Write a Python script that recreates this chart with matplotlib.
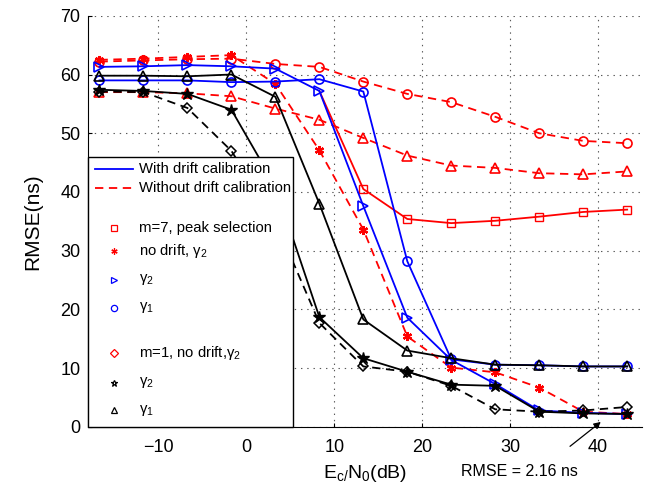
import matplotlib
matplotlib.use('Agg')
import matplotlib.pyplot as plt
import numpy as np
from matplotlib.lines import Line2D
from matplotlib.patches import Rectangle

plt.rcParams['font.family'] = ['Liberation Sans', 'DejaVu Sans']
plt.rcParams['mathtext.fontset'] = 'custom'
plt.rcParams['mathtext.rm'] = 'Liberation Sans'
plt.rcParams['mathtext.it'] = 'Liberation Sans'
plt.rcParams['mathtext.default'] = 'regular'
plt.rcParams['lines.scale_dashes'] = False

# Ec/N0 (dB)
snr = [-16.7, -11.7, -6.7, -1.7, 3.3, 8.3, 13.3, 18.3, 23.3, 28.3, 33.3, 38.3, 43.3]

# m=7, com calibracao de deriva
azul_gama2 = [61.3, 61.4, 61.6, 61.4, 61.0, 57.2, 37.6, 18.6, 11.4, 7.3, 2.8, 2.4, 2.2]
azul_gama1 = [59.0, 59.0, 59.0, 58.7, 58.8, 59.2, 57.1, 28.2, 11.5, 10.6, 10.5, 10.3, 10.3]
# m=7, peak selection
nan = np.nan
vermelho_pico = [nan, nan, nan, nan, nan, 57.2, 40.5, 35.4, 34.7, 35.1, 35.8, 36.6, 37.0]
# sem calibracao de deriva
vermelho_gama1 = [62.2, 62.4, 62.6, 62.7, 61.8, 61.3, 58.8, 56.7, 55.3, 52.8, 50.0, 48.7, 48.3]
vermelho_gama2 = [57.0, 57.0, 56.8, 56.3, 54.2, 52.3, 49.2, 46.2, 44.5, 44.1, 43.2, 43.0, 43.5]
vermelho_sem_deriva = [62.5, 62.7, 63.0, 63.3, 58.4, 47.1, 33.6, 15.4, 10.1, 9.3, 6.7, 2.6, 2.2]
# m=1
preto_gama1 = [59.8, 59.8, 59.7, 60.0, 56.2, 38.0, 18.3, 13.0, 11.7, 10.6, 10.5, 10.3, 10.3]
preto_gama2 = [57.4, 57.2, 56.7, 54.0, 41.0, 18.7, 11.7, 9.4, 7.2, 7.0, 2.6, 2.3, 2.2]
preto_sem_deriva = [57.1, 57.0, 54.3, 47.0, 35.0, 17.7, 10.3, 9.4, 7.0, 3.0, 2.6, 2.8, 3.4]

fig = plt.figure(figsize=(6.62, 4.93), dpi=100)
ax = fig.add_axes([0.133, 0.134, 0.837, 0.834])

tracejado = (6, 4)
asterisco = (6, 2, 0)
lw = 1.3
ms = 6.5

# curvas vermelhas (sem calibracao)
ax.plot(snr, vermelho_gama1, color='r', lw=lw, dashes=tracejado, marker='o', ms=ms, mfc='none', mew=1.2)
ax.plot(snr, vermelho_gama2, color='r', lw=lw, dashes=tracejado, marker='^', ms=ms, mfc='none', mew=1.2)
ax.plot(snr, vermelho_sem_deriva, color='r', lw=lw, dashes=tracejado, marker=asterisco, ms=ms, mew=1.6)
ax.plot(snr, vermelho_pico, color='r', lw=lw, marker='s', ms=5.5, mfc='none', mew=1.0,
        markevery=list(range(6, 13)))

# curvas azuis (com calibracao)
ax.plot(snr, azul_gama2, color='b', lw=lw, marker='>', ms=ms, mfc='none', mew=1.2)
ax.plot(snr, azul_gama1, color='b', lw=lw, marker='o', ms=ms, mfc='none', mew=1.2)

# curvas pretas (m=1)
ax.plot(snr, preto_sem_deriva, color='k', lw=lw, dashes=tracejado, marker='D', ms=5.5, mfc='none', mew=1.1)
ax.plot(snr, preto_gama1, color='k', lw=lw, marker='^', ms=ms, mfc='none', mew=1.2)
ax.plot(snr, preto_gama2, color='k', lw=lw, marker='*', ms=9, mfc='k', mew=1.0)

ax.set_xlim(-18, 45)
ax.set_ylim(0, 70)
ax.set_xticks([-10, 0, 10, 20, 30, 40])
ax.set_yticks(range(0, 71, 10))
ax.tick_params(direction='in', labelsize=13, length=3, top=False, right=False)
ax.tick_params(axis='x', pad=8.5)
ax.tick_params(axis='y', pad=5.5)
ax.grid(True, color='0.35', linestyle=(0, (1, 3.5)), lw=0.8)
ax.spines['top'].set_visible(False)
ax.spines['right'].set_visible(False)
ax.set_xlabel(r'$E_{c/}N_{0}$(dB)', fontsize=14, labelpad=5)
ax.set_ylabel('RMSE(ns)', fontsize=15, labelpad=13)

# legenda desenhada a mao (espacamento irregular do original)
ax.add_patch(Rectangle((0, 0), 0.37, 0.657, transform=ax.transAxes, facecolor='white',
                       edgecolor='k', lw=1.0, zorder=10, clip_on=False))
x0, x1, xm, xt = 0.013, 0.081, 0.047, 0.092
ax.add_line(Line2D([x0, x1], [0.628, 0.628], transform=ax.transAxes, color='b', lw=1.3, zorder=11))
ax.add_line(Line2D([x0, x1], [0.581, 0.581], transform=ax.transAxes, color='r', lw=1.3,
                   dashes=tracejado, zorder=11))
ax.text(xt, 0.628, 'With drift calibration', transform=ax.transAxes, fontsize=10.7, va='center', zorder=12)
ax.text(xt, 0.581, 'Without drift calibration', transform=ax.transAxes, fontsize=10.7, va='center', zorder=12)

entradas = [
    (0.484, 's', 'r', 'm=7, peak selection'),
    (0.428, asterisco, 'r', r'no drift, $\gamma_2$'),
    (0.358, '>', 'b', r'$\gamma_2$'),
    (0.290, 'o', 'b', r'$\gamma_1$'),
    (0.180, 'D', 'r', r'm=1, no drift,$\gamma_2$'),
    (0.107, '*', 'k', r'$\gamma_2$'),
    (0.041, '^', 'k', r'$\gamma_1$'),
]
for y, mk, cor, rotulo in entradas:
    ax.add_line(Line2D([xm], [y], transform=ax.transAxes, marker=mk, color=cor, ms=4.5,
                       mfc='none', mew=0.9, zorder=11))
    ax.text(xt, y, rotulo, transform=ax.transAxes, fontsize=10.7, va='center', zorder=12)

# anotacao do erro minimo
ax.annotate('', xy=(40.3, 0.85), xytext=(36.8, -3.3), annotation_clip=False,
            arrowprops=dict(arrowstyle='-|>', color='k', lw=0.9, mutation_scale=10,
                            shrinkA=0, shrinkB=0))
ax.text(31.0, -7.6, 'RMSE = 2.16 ns', fontsize=11.5, ha='center', va='center', clip_on=False)

fig.savefig('out.png', dpi=100)
